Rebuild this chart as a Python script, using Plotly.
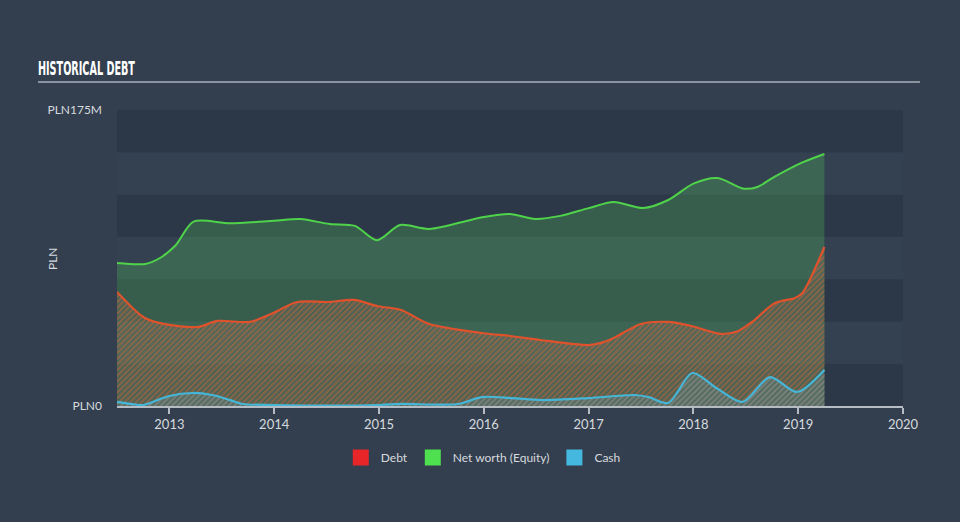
import plotly.graph_objects as go

# Data (values in PLN millions), x in fractional years
equity_x = [2012.50, 2012.77, 2012.91, 2013.06, 2013.23, 2013.58, 2014.00, 2014.25, 2014.53, 2014.77,
            2014.98, 2015.20, 2015.48, 2016.00, 2016.25, 2016.49, 2016.73, 2017.00, 2017.24, 2017.52,
            2017.76, 2018.00, 2018.23, 2018.48, 2018.61, 2018.76, 2019.03, 2019.25]
equity_y = [84.5, 84.0, 87.5, 95.0, 109.0, 108.0, 109.5, 110.5, 107.6, 106.5,
            98.0, 107.0, 104.7, 111.8, 113.5, 110.6, 112.4, 117.0, 120.6, 117.0,
            121.8, 131.5, 134.8, 128.5, 129.5, 135.0, 143.7, 149.0]

debt_x = [2012.50, 2012.75, 2012.91, 2013.27, 2013.46, 2013.77, 2013.99, 2014.22, 2014.51, 2014.76,
          2014.99, 2015.21, 2015.48, 2016.00, 2016.25, 2016.54, 2017.00, 2017.12, 2017.24, 2017.50,
          2017.76, 2017.98, 2018.27, 2018.43, 2018.56, 2018.78, 2018.97, 2019.04, 2019.25]
debt_y = [67.4, 52.6, 49.0, 46.7, 50.3, 49.7, 55.0, 61.5, 61.5, 62.7,
          59.0, 56.8, 48.5, 43.0, 41.4, 39.0, 36.0, 37.3, 40.2, 48.5,
          49.7, 47.3, 42.6, 44.4, 49.7, 60.9, 63.9, 66.8, 94.0]

cash_x = [2012.50, 2012.75, 2012.84, 2013.00, 2013.22, 2013.41, 2013.58, 2013.70, 2014.00, 2015.00,
          2015.21, 2015.76, 2015.98, 2016.27, 2016.55, 2017.00, 2017.44, 2017.57, 2017.76, 2017.99,
          2018.22, 2018.47, 2018.73, 2018.99, 2019.25]
cash_y = [2.4, 0.6, 2.4, 5.9, 7.7, 6.5, 3.5, 1.2, 0.6, 0.6,
          1.2, 1.2, 5.3, 4.7, 3.5, 4.7, 6.5, 5.3, 1.8, 19.5,
          10.6, 2.4, 17.1, 8.3, 21.3]

year_ticks = [2013, 2014, 2015, 2016, 2017, 2018, 2019, 2020]
y_ticks = [0, 175]
y_tick_labels = ["PLN0", "PLN175M"]
band_edges = [0, 25, 50, 75, 100, 125, 150, 175]

BG = "#333f4f"
BAND_DARK = "#2c3847"
BAND_LIGHT = "#344150"
FONT = "Lato, Noto Sans, sans-serif"

fig = go.Figure()

fig.add_trace(go.Scatter(
    x=equity_x, y=equity_y, mode="lines", line=dict(color="#4fd34a", width=2, shape="spline", smoothing=0.8),
    fill="tozeroy", fillcolor="rgba(85,200,95,0.27)", showlegend=False, hoverinfo="skip"))

fig.add_trace(go.Scatter(
    x=debt_x, y=debt_y, mode="lines", line=dict(color="#e0522c", width=2.2, shape="spline", smoothing=0.8),
    fill="tozeroy", fillcolor="rgba(0,0,0,0)",
    fillpattern=dict(shape="/", size=4, solidity=0.5, fgcolor="rgba(220,100,55,0.9)", bgcolor="rgba(110,110,100,0.3)"),
    showlegend=False, hoverinfo="skip"))

fig.add_trace(go.Scatter(
    x=cash_x, y=cash_y, mode="lines", line=dict(color="#45b6d8", width=2.2, shape="spline", smoothing=0.8),
    fill="tozeroy", fillcolor="rgba(0,0,0,0)",
    fillpattern=dict(shape="/", size=4, solidity=0.45, fgcolor="rgba(110,160,175,0.85)", bgcolor="rgba(100,130,130,0.3)"),
    showlegend=False, hoverinfo="skip"))

# legend entries
for name, col in [("Debt", "#e8262a"), ("Net worth (Equity)", "#4fe04f"), ("Cash", "#45b8e0")]:
    fig.add_trace(go.Scatter(x=[None], y=[None], mode="markers", name=name,
                             marker=dict(symbol="square", size=16, color=col)))

shapes = []
for i in range(len(band_edges) - 1):
    shapes.append(dict(type="rect", xref="paper", yref="y", x0=0, x1=1,
                       y0=band_edges[i], y1=band_edges[i + 1],
                       fillcolor=BAND_DARK if i % 2 == 0 else BAND_LIGHT,
                       line=dict(width=0), layer="below"))
# title underline
shapes.append(dict(type="line", xref="paper", yref="paper", x0=-0.1005, x1=1.0216,
                   y0=1.0946, y1=1.0946, line=dict(color="#a9b1ba", width=1.5)))

fig.update_layout(
    width=960, height=522,
    paper_bgcolor=BG, plot_bgcolor=BG,
    margin=dict(l=117, r=57, t=110, b=116),
    shapes=shapes,
    showlegend=True,
    legend=dict(orientation="h", x=0.466, xanchor="center", y=-0.125, yanchor="top",
                font=dict(family=FONT, size=12, color="#d6dade"),
                itemwidth=30, bgcolor="rgba(0,0,0,0)"),
    xaxis=dict(range=[2012.5, 2020.0], tickvals=year_ticks, ticktext=[str(t) for t in year_ticks],
               showgrid=False, zeroline=False, showline=True, linecolor="#b5bcc4", linewidth=1.5,
               ticks="outside", ticklen=6, tickcolor="#b5bcc4", tickwidth=1.5,
               tickfont=dict(family=FONT, size=13, color="#d6dade")),
    yaxis=dict(range=[0, 175], tickvals=y_ticks, ticktext=y_tick_labels, showgrid=False, zeroline=False,
               showline=False, ticks="", ticklabelstandoff=14,
               tickfont=dict(family=FONT, size=12, color="#d6dade")),
    annotations=[
        dict(text="<b>HISTORICAL DEBT</b>", xref="paper", yref="paper", x=-0.0388, y=1.142,
             xanchor="center", yanchor="middle", showarrow=False,
             font=dict(family="DejaVu Sans Condensed, DejaVu Sans, sans-serif", size=20, color="#ffffff")),
        dict(text="PLN", xref="paper", yref="paper", x=-0.0827, y=0.5, textangle=-90,
             xanchor="center", yanchor="middle", showarrow=False,
             font=dict(family=FONT, size=12, color="#d6dade")),
    ],
)

post = """
document.body.style.margin='0';
document.body.style.background='#333f4f';
var squeeze=function(){
  var el=document.querySelector('.annotation-text');
  if(el){el.setAttribute('textLength','97');el.setAttribute('lengthAdjust','spacingAndGlyphs');}
};
squeeze();
var gd=document.getElementsByClassName('plotly-graph-div')[0];
if(gd&&gd.on){gd.on('plotly_afterplot',squeeze);}
"""

fig.write_html("out.html", post_script=post, config={"displayModeBar": False})
